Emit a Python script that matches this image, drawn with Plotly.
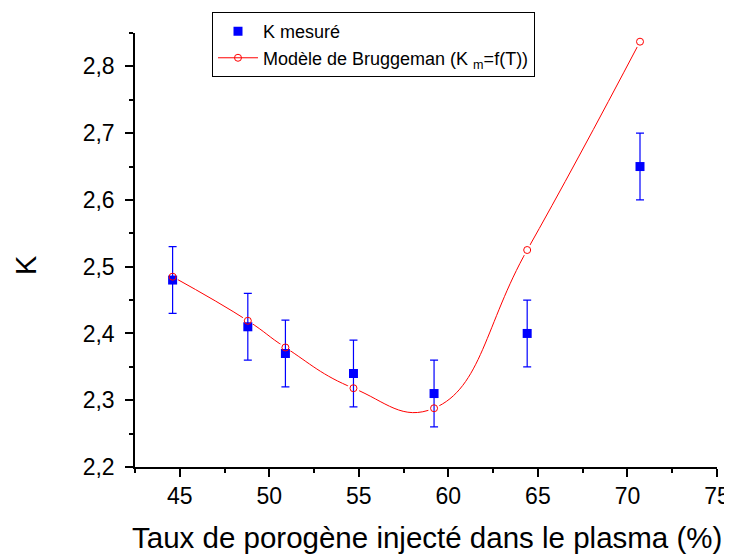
import plotly.graph_objects as go

# Data
taux = [44.6, 48.8, 50.9, 54.7, 59.2, 64.4, 70.7]          # x: Taux de porogène (%)
k_mesure = [2.48, 2.41, 2.37, 2.34, 2.31, 2.40, 2.65]      # K mesuré
k_erreur = [0.05, 0.05, 0.05, 0.05, 0.05, 0.05, 0.05]      # error bars
k_modele = [2.485, 2.419, 2.379, 2.318, 2.288, 2.525, 2.837]  # Bruggeman model

x_ticks = [45, 50, 55, 60, 65, 70, 75]
y_ticks = [2.2, 2.3, 2.4, 2.5, 2.6, 2.7, 2.8]

FONT = "Liberation Sans, Arial, sans-serif"

fig = go.Figure()

# Model line (with legend entry showing line + circle)
fig.add_trace(go.Scatter(
    x=taux, y=k_modele, mode="lines+markers",
    name="Modèle de Bruggeman (K <sub>m</sub>=f(T))",
    line=dict(color="#FF0000", width=1, shape="spline", smoothing=1.3),
    marker=dict(symbol="circle-open", size=7, color="#FF0000", line=dict(width=1)),
    legendrank=2,
))
# White halos to create gaps in the line around the circles
fig.add_trace(go.Scatter(
    x=taux, y=k_modele, mode="markers", showlegend=False, hoverinfo="skip",
    marker=dict(symbol="circle", size=12, color="white", line=dict(width=0)),
))
# Measured values
fig.add_trace(go.Scatter(
    x=taux, y=k_mesure, mode="markers", name="K mesuré",
    marker=dict(symbol="square", size=9, color="#0000FF"),
    error_y=dict(type="data", array=k_erreur, visible=True,
                 color="#0000FF", thickness=1.2, width=4),
    legendrank=1,
))
# Model circles on top
fig.add_trace(go.Scatter(
    x=taux, y=k_modele, mode="markers", showlegend=False,
    marker=dict(symbol="circle-open", size=7, color="#FF0000", line=dict(width=1)),
))

fig.update_layout(
    width=724, height=546,
    margin=dict(l=127, r=15, t=25, b=87, autoexpand=False),
    paper_bgcolor="white", plot_bgcolor="white",
    separators=",.",
    font=dict(family=FONT, color="black"),
    showlegend=True,
    legend=dict(
        x=0.1323, y=1.048, xanchor="left", yanchor="top",
        bordercolor="black", borderwidth=1, bgcolor="white",
        font=dict(size=18, family=FONT), itemwidth=40, tracegroupgap=0,
    ),
    xaxis=dict(
        range=[42.5, 75], tickvals=x_ticks, tickformat="d",
        showline=True, linecolor="black", linewidth=1.5,
        ticks="outside", ticklen=8, tickwidth=1.5, tickcolor="black",
        minor=dict(dtick=2.5, tick0=42.5, ticks="outside", ticklen=4,
                   tickwidth=1.5, tickcolor="black", showgrid=False),
        showgrid=False, zeroline=False, mirror=False,
        tickfont=dict(size=23, family=FONT),
    ),
    yaxis=dict(
        range=[2.2, 2.85], tickvals=y_ticks, tickformat=".1f",
        showline=True, linecolor="black", linewidth=1.5,
        ticks="outside", ticklen=8, tickwidth=1.5, tickcolor="black",
        minor=dict(dtick=0.05, tick0=2.2, ticks="outside", ticklen=4,
                   tickwidth=1.5, tickcolor="black", showgrid=False),
        showgrid=False, zeroline=False, mirror=False,
        tickfont=dict(size=23, family=FONT), ticklabelstandoff=6,
    ),
    annotations=[
        dict(text="Taux de porogène injecté dans le plasma (%)",
             xref="paper", yref="paper", x=0.502, y=-0.163,
             xanchor="center", yanchor="middle", showarrow=False,
             font=dict(size=29.5, family=FONT)),
        dict(text="K", xref="paper", yref="paper",
             x=(26 - 135) / 582, y=(467 - 265) / 434,
             xanchor="center", yanchor="middle", showarrow=False,
             textangle=-90, font=dict(size=29, family=FONT)),
    ],
)

fig.write_html("out.html")
